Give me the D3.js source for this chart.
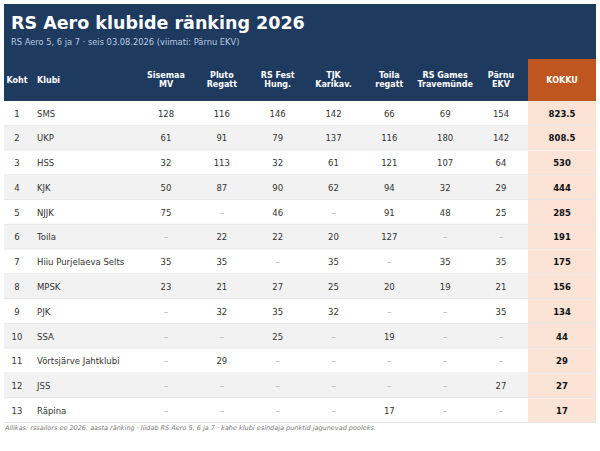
<!DOCTYPE html>
<html>
<head>
<meta charset="utf-8">
<script src="https://cdn.jsdelivr.net/npm/d3@7"></script>
<style>
  body { margin: 0; background: #fff; }
  svg { font-family: "DejaVu Sans", sans-serif; display: block; }
</style>
</head>
<body>
<svg id="chart" width="600" height="451"></svg>
<script>
// data
const events = [["Sisemaa", "MV"], ["Pluto", "Regatt"], ["RS Fest", "Hung."], ["TJK", "Karikav."],
                ["Toila", "regatt"], ["RS Games", "Travemünde"], ["Pärnu", "EKV"]];
const clubs = ["SMS", "UKP", "HSS", "KJK", "NJJK", "Toila", "Hiiu Purjelaeva Selts", "MPSK",
               "PJK", "SSA", "Võrtsjärve Jahtklubi", "JSS", "Räpina"];
const points = [
  [128, 116, 146, 142, 66, 69, 154],
  [61, 91, 79, 137, 116, 180, 142],
  [32, 113, 32, 61, 121, 107, 64],
  [50, 87, 90, 62, 94, 32, 29],
  [75, null, 46, null, 91, 48, 25],
  [null, 22, 22, 20, 127, null, null],
  [35, 35, null, 35, null, 35, 35],
  [23, 21, 27, 25, 20, 19, 21],
  [null, 32, 35, 32, null, null, 35],
  [null, null, 25, null, 19, null, null],
  [null, 29, null, null, null, null, null],
  [null, null, null, null, null, null, 27],
  [null, null, null, null, 17, null, null]
];
const totals = ["823.5", "808.5", "530", "444", "285", "191", "175", "156", "134", "44", "29", "27", "17"];

const svg = d3.select("#chart");
const left = 4, right = 596;

// header panel
svg.append("rect").attr("x", left).attr("y", 4).attr("width", right - left).attr("height", 97)
  .attr("fill", "#1f3a5f");
svg.append("text").attr("x", 11).attr("y", 29).attr("fill", "#fff")
  .attr("font-size", 17.5).attr("font-weight", "bold").text("RS Aero klubide ränking 2026");
svg.append("text").attr("x", 11).attr("y", 45).attr("fill", "#b9c9e0")
  .attr("font-size", 8.3).text("RS Aero 5, 6 ja 7 · seis 03.08.2026 (viimati: Pärnu EKV)");

// scales
const y = d3.scaleBand().domain(d3.range(clubs.length)).range([101, 423]);
const x = d3.scalePoint().domain(d3.range(events.length)).range([166, 501]);
const kokX0 = 528, kokX1 = right, kokC = (kokX0 + kokX1) / 2;

// KOKKU header cell
svg.append("rect").attr("x", kokX0).attr("y", 59).attr("width", kokX1 - kokX0).attr("height", 42)
  .attr("fill", "#c0561f");

const hdr = svg.append("g").attr("fill", "#fff").attr("font-size", 8).attr("font-weight", "bold");
hdr.append("text").attr("x", 17).attr("y", 82.5).attr("text-anchor", "middle").text("Koht");
hdr.append("text").attr("x", 37).attr("y", 82.5).text("Klubi");
hdr.append("text").attr("x", kokC).attr("y", 82.5).attr("text-anchor", "middle").text("KOKKU");
events.forEach((e, i) => {
  const t = hdr.append("text").attr("text-anchor", "middle");
  t.append("tspan").attr("x", x(i)).attr("y", 78.3).text(e[0]);
  t.append("tspan").attr("x", x(i)).attr("y", 86.7).text(e[1]);
});

// body rows
const rows = svg.append("g").selectAll("g").data(clubs).join("g")
  .attr("transform", (d, i) => `translate(0,${y(i)})`);
rows.append("rect").attr("x", left).attr("width", right - left).attr("height", y.bandwidth())
  .attr("fill", (d, i) => i % 2 ? "#f2f2f2" : "#fff");
rows.append("rect").attr("x", kokX0).attr("width", kokX1 - kokX0).attr("height", y.bandwidth())
  .attr("fill", "#fbe3d6");
rows.append("line").attr("x1", left).attr("x2", right)
  .attr("y1", y.bandwidth() - 0.5).attr("y2", y.bandwidth() - 0.5)
  .attr("stroke", "#e6e6e6").attr("stroke-width", 1);

const cy = y.bandwidth() / 2 + 3.2;
rows.append("text").attr("x", 17).attr("y", cy).attr("text-anchor", "middle")
  .attr("font-size", 8.5).attr("fill", "#333").text((d, i) => i + 1);
rows.append("text").attr("x", 37).attr("y", cy)
  .attr("font-size", 8.5).attr("fill", "#333").text(d => d);
rows.each(function(d, i) {
  d3.select(this).selectAll("text.v").data(points[i]).join("text").attr("class", "v")
    .attr("x", (v, j) => x(j)).attr("y", cy).attr("text-anchor", "middle")
    .attr("font-size", 8.5).attr("fill", v => v == null ? "#aaa" : "#333")
    .text(v => v == null ? "–" : v);
});
rows.append("text").attr("x", kokC).attr("y", cy).attr("text-anchor", "middle")
  .attr("font-size", 8.5).attr("font-weight", "bold").attr("fill", "#111")
  .text((d, i) => totals[i]);

// footer
svg.append("text").attr("x", 5).attr("y", 430).attr("font-size", 6.5).attr("font-style", "italic")
  .attr("fill", "#777")
  .text("Allikas: rssailors.ee 2026. aasta ränking · liidab RS Aero 5, 6 ja 7 · kahe klubi esindaja punktid jagunevad pooleks.");
</script>
</body>
</html>
